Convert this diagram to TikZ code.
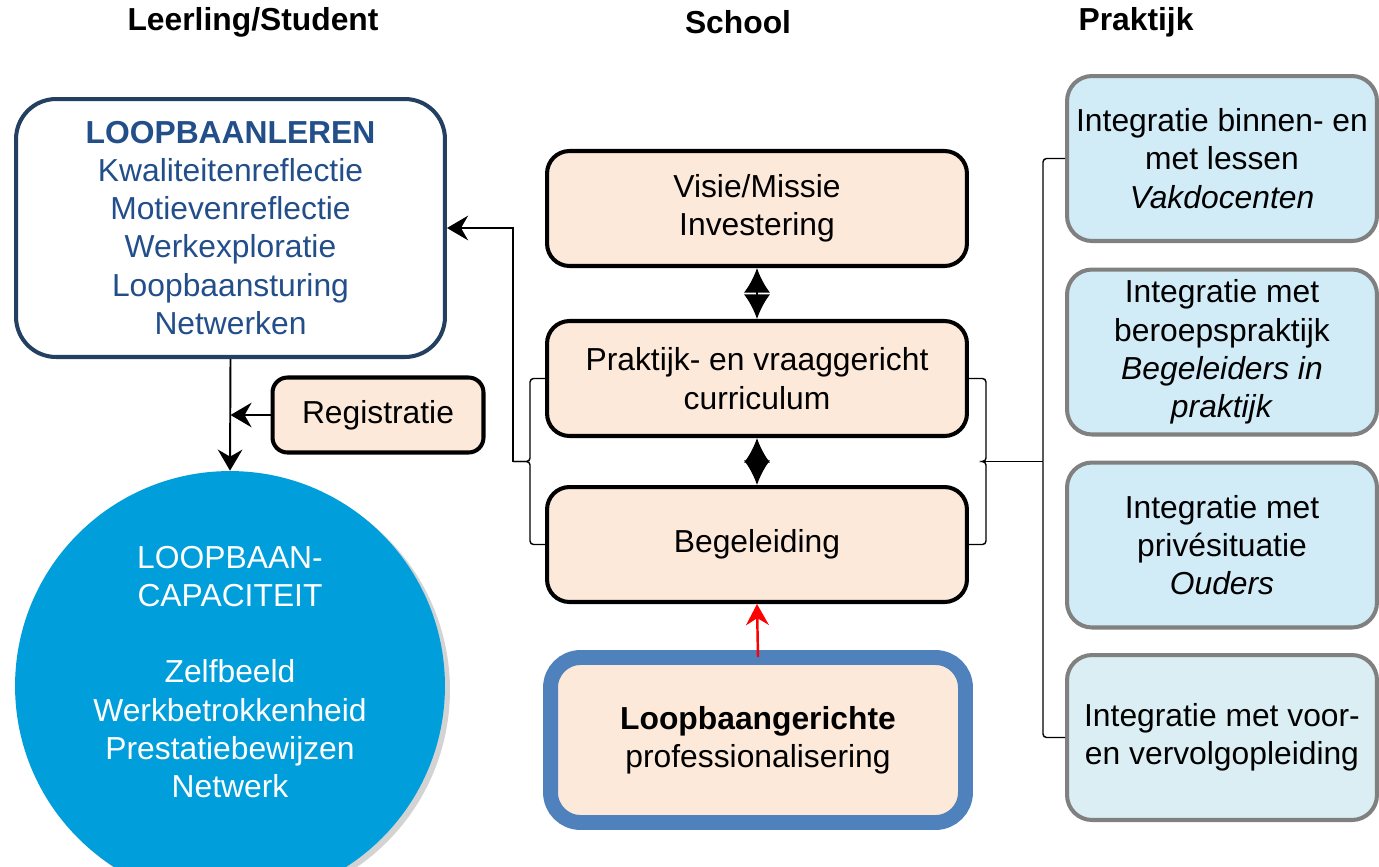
\documentclass[tikz,border=0pt]{standalone}
\usepackage{fontspec}
\setmainfont{Liberation Sans}
\usetikzlibrary{arrows.meta,shadows}

\definecolor{peach}{RGB}{252,233,218}
\definecolor{skyfill}{RGB}{209,235,247}
\definecolor{skyfillb}{RGB}{218,238,243}
\definecolor{rimgray}{RGB}{128,128,128}
\definecolor{navyrim}{RGB}{36,64,97}
\definecolor{navytext}{RGB}{34,78,138}
\definecolor{capblue}{RGB}{0,158,218}
\definecolor{profblue}{RGB}{79,129,189}

\newcommand{\diagfont}{\fontsize{18.1pt}{21.8pt}\selectfont}

\tikzset{
    header/.style={font=\diagfont\bfseries},
    schoolbox/.style={draw=black, line width=2.3pt, fill=peach, rounded corners=0.45cm,
        minimum width=8.4cm, minimum height=2.3cm, align=center, font=\diagfont},
    praktbox/.style={draw=rimgray, line width=2.3pt, fill=skyfill, rounded corners=0.5cm,
        minimum width=6.2cm, minimum height=3.3cm, align=center, font=\diagfont},
    arr/.style={line width=1.1pt, -{Stealth[length=12pt,width=14pt,inset=4pt]}},
    dblarr/.style={line width=1.6pt, {Latex[length=14pt,width=15pt]}-{Latex[length=14pt,width=15pt]}},
    bracket/.style={line width=0.8pt, rounded corners=2pt}
}

\begin{document}
\begin{tikzpicture}[x=0.02cm, y=-0.02cm]
            \useasboundingbox (0,0) rectangle (1379,866);
            \clip (0,0) rectangle (1379,866);
            % column headers
            \node[header] (hstudent) at (253,22) {Leerling/Student};
            \node[header] (hschool) at (738,22) {School};
            \node[header] (hpraktijk) at (1136,22) {Praktijk};
            % student column
            \node[draw=navyrim, line width=2.3pt, fill=white, rounded corners=0.8cm,
                minimum width=8.58cm, minimum height=5.16cm, align=center,
                font=\diagfont, text=navytext] (lleren) at (230.5,228)
                {\textbf{LOOPBAANLEREN}\\[-0.3pt]Kwaliteitenreflectie\\Motievenreflectie\\Werkexploratie\\Loopbaansturing\\Netwerken};
            \node[schoolbox, minimum width=4.22cm, minimum height=1.5cm, rounded corners=0.3cm] (reg) at (378,415) {Registratie};
            \node[circle, fill=capblue, minimum size=8.6cm,
                drop shadow={shadow xshift=0.1cm, shadow yshift=-0.08cm, opacity=0.35}] (cap) at (230,686) {};
            \node[align=center, text=white, font=\diagfont] (captxt) at (230,672)
                {LOOPBAAN-\\CAPACITEIT\\[21.8pt]Zelfbeeld\\Werkbetrokkenheid\\Prestatiebewijzen\\Netwerk};
            \draw[arr] (lleren.south) -- (cap.north);
            \draw[arr] (reg.west) -- (reg.west -| lleren.south);
            % school column
            \node[schoolbox] (visie) at (757,208.5) {Visie/Missie\\Investering};
            \node[schoolbox] (curr) at (757,378.5) {Praktijk- en vraaggericht\\curriculum};
            \node[schoolbox] (beg) at (757,544.5) {Begeleiding};
            \node[draw=profblue, line width=8.5pt, fill=peach, rounded corners=0.6cm,
                minimum width=8.3cm, minimum height=3.3cm, align=center, font=\diagfont] (lpg) at (758,740)
                {\textbf{Loopbaangerichte}\\professionalisering};
            \draw[dblarr] (visie.south) -- (curr.north);
            \draw[dblarr] (curr.south) -- (beg.north);
            \draw[red, line width=1.4pt, -{Stealth[length=12pt,width=13pt,inset=4pt]}] ([yshift=-4pt]lpg.north) -- (beg.south);
            % brackets and feedback arrow
            \coordinate (lb) at (513,461.5);
            \coordinate (ri) at (985,461.5);
            \coordinate (ro) at (1043,461.5);
            \draw[bracket] (curr.west) -- ++(-15,0) |- (lb);
            \draw[bracket] (beg.west) -- ++(-15,0) |- (lb);
            \draw[arr] (lb) |- (lleren.east);
            \draw[bracket] (curr.east) -- ++(17,0) |- (ri);
            \draw[bracket] (beg.east) -- ++(17,0) |- (ri);
            \draw[bracket] (ri) -- (ro);
            % praktijk column
            \node[praktbox] (pr1) at (1222,158.5) {Integratie binnen- en\\met lessen\\\textit{Vakdocenten}};
            \node[praktbox] (pr2) at (1222,352) {Integratie met\\beroepspraktijk\\\textit{Begeleiders in}\\\textit{praktijk}};
            \node[praktbox] (pr3) at (1222,545) {Integratie met\\privésituatie\\\textit{Ouders}};
            \node[praktbox, fill=skyfillb] (pr4) at (1222,737.5) {Integratie met voor-\\en vervolgopleiding};
            \draw[bracket] (pr1.west) -| (ro);
            \draw[bracket] (pr4.west) -| (ro);
\end{tikzpicture}
\end{document}
